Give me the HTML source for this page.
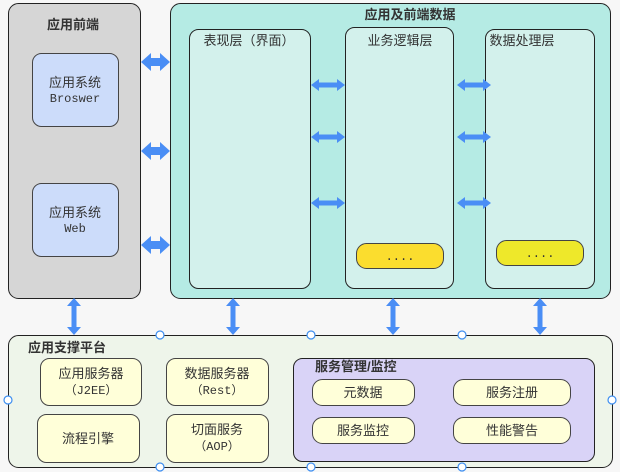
<!DOCTYPE html>
<html><head><meta charset="utf-8"><style>
body{margin:0;background:#f7f7f7}
svg{display:block}
text{font-family:"Liberation Sans","Noto Sans CJK SC",sans-serif;fill:#333}
.b{font-weight:bold;font-size:13px}
.t{font-size:13px}
.m{font-family:"Liberation Mono","Noto Sans CJK SC",monospace;font-size:12px}
</style></head><body>
<svg width="620" height="472" viewBox="0 0 620 472" xmlns="http://www.w3.org/2000/svg">
<rect width="620" height="472" fill="#f7f7f7"/>
<rect x="8.5" y="3.5" width="132" height="295" rx="10" fill="#d6d6d6" stroke="#222"/>
<text x="73" y="29" class="b" text-anchor="middle">应用前端</text>
<rect x="32.5" y="53.5" width="86" height="73" rx="9" fill="#ccdcfa" stroke="#444"/>
<text x="75" y="87" class="t" text-anchor="middle">应用系统</text>
<text x="75" y="102" class="m" text-anchor="middle">Broswer</text>
<rect x="32.5" y="183.5" width="86" height="73" rx="9" fill="#ccdcfa" stroke="#444"/>
<text x="75" y="217" class="t" text-anchor="middle">应用系统</text>
<text x="75" y="232" class="m" text-anchor="middle">Web</text>
<rect x="170.5" y="3.5" width="440" height="295" rx="10" fill="#b5ebe4" stroke="#222"/>
<text x="410" y="19" class="b" text-anchor="middle">应用及前端数据</text>
<rect x="189.5" y="29.5" width="121" height="259" rx="9" fill="#d3f1ec" stroke="#222"/>
<text x="249" y="45" class="t" text-anchor="middle">表现层（界面）</text>
<rect x="345.5" y="27.5" width="108" height="261" rx="9" fill="#d3f1ec" stroke="#222"/>
<text x="400" y="45" class="t" text-anchor="middle">业务逻辑层</text>
<rect x="485.5" y="29.5" width="109" height="259" rx="9" fill="#d3f1ec" stroke="#222"/>
<text x="522" y="45" class="t" text-anchor="middle">数据处理层</text>
<rect x="356.5" y="243.5" width="87" height="25" rx="10" fill="#fbdd2e" stroke="#444"/>
<text x="400" y="260" class="m" text-anchor="middle">....</text>
<rect x="496.5" y="240.5" width="87" height="25" rx="10" fill="#eee82a" stroke="#444"/>
<text x="540" y="257" class="m" text-anchor="middle">....</text>
<rect x="8.5" y="335.5" width="604" height="132" rx="10" fill="#eef5ea" stroke="#222"/>
<text x="28" y="352" class="b">应用支撑平台</text>
<g fill="#ffffd9" stroke="#444">
<rect x="40.5" y="358.5" width="101" height="47" rx="9"/>
<rect x="166.5" y="358.5" width="102" height="47" rx="9"/>
<rect x="37.5" y="414.5" width="102" height="48" rx="9"/>
<rect x="166.5" y="414.5" width="102" height="48" rx="9"/>
</g>
<text x="91" y="378" class="t" text-anchor="middle">应用服务器</text>
<text x="91" y="394" class="m" text-anchor="middle">（J2EE）</text>
<text x="217" y="378" class="t" text-anchor="middle">数据服务器</text>
<text x="217" y="394" class="m" text-anchor="middle">（Rest）</text>
<text x="88" y="443" class="t" text-anchor="middle">流程引擎</text>
<text x="217" y="434" class="t" text-anchor="middle">切面服务</text>
<text x="217" y="450" class="m" text-anchor="middle">（AOP）</text>
<rect x="293.5" y="358.5" width="301" height="103" rx="9" fill="#d9d3f7" stroke="#222"/>
<text x="315" y="371" class="b">服务管理/监控</text>
<g fill="#ffffd9" stroke="#444">
<rect x="312.5" y="379.5" width="102" height="26" rx="10"/>
<rect x="453.5" y="379.5" width="117" height="26" rx="10"/>
<rect x="312.5" y="417.5" width="102" height="26" rx="10"/>
<rect x="453.5" y="417.5" width="117" height="26" rx="10"/>
</g>
<text x="363" y="397" class="t" text-anchor="middle">元数据</text>
<text x="512" y="397" class="t" text-anchor="middle">服务注册</text>
<text x="363" y="435" class="t" text-anchor="middle">服务监控</text>
<text x="512" y="435" class="t" text-anchor="middle">性能警告</text>
<g fill="#4a8ef5">
<path id="bh" d="M141 62 L151 53 L151 58 L160 58 L160 53 L170 62 L160 71 L160 66 L151 66 L151 71 Z"/>
<use href="#bh" y="89"/><use href="#bh" y="183"/>
<path id="sh" d="M311 85 L319 79 L319 82.5 L337 82.5 L337 79 L345 85 L337 91 L337 87.5 L319 87.5 L319 91 Z"/>
<use href="#sh" y="52"/><use href="#sh" y="118"/>
<use href="#sh" x="146"/><use href="#sh" x="146" y="52"/><use href="#sh" x="146" y="118"/>
<path id="vh" d="M74 298 L81 306 L76.5 306 L76.5 327 L81 327 L74 335 L67 327 L71.5 327 L71.5 306 L67 306 Z"/>
<use href="#vh" x="159"/><use href="#vh" x="319"/><use href="#vh" x="466"/>
</g>
<g fill="#fff" stroke="#3d8ef0" stroke-width="1.2">
<circle cx="160" cy="335" r="4"/><circle cx="311" cy="335" r="4"/><circle cx="462" cy="335" r="4"/>
<circle cx="8" cy="400" r="4"/><circle cx="612" cy="400" r="4"/>
<circle cx="160" cy="467" r="4"/><circle cx="311" cy="467" r="4"/><circle cx="462" cy="467" r="4"/>
</g>
</svg>
</body></html>
